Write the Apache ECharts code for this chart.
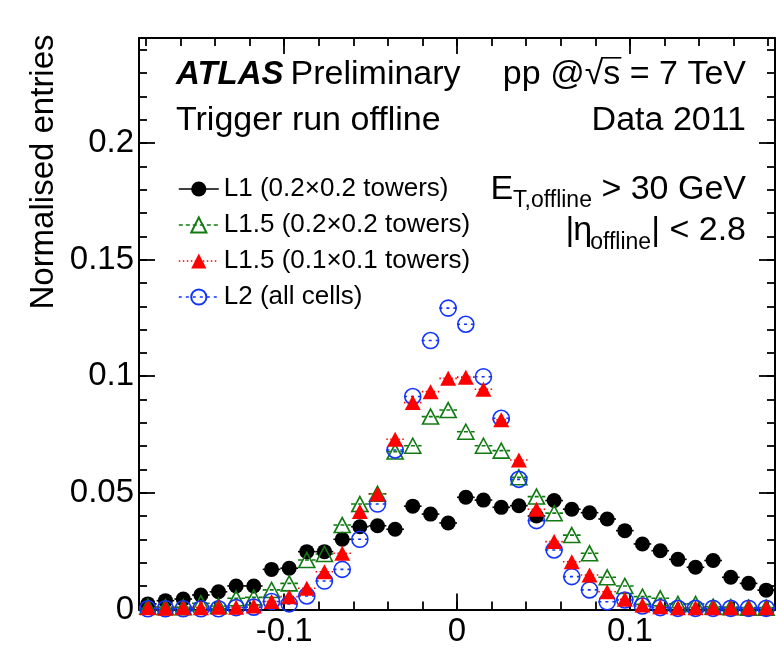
<!DOCTYPE html>
<html><head><meta charset="utf-8">
<script src="https://cdn.jsdelivr.net/npm/echarts@6/dist/echarts.min.js"></script>
<style>html,body{margin:0;padding:0;background:#fff}#c{width:776px;height:655px}</style>
</head><body><div id="c"></div>
<script>
// ---- data ----
const binCenters = [-0.1789,-0.1687,-0.1584,-0.1482,-0.1380,-0.1278,-0.1176,-0.1073,-0.0971,-0.0869,-0.0767,-0.0664,-0.0562,-0.0460,-0.0358,-0.0256,-0.0153,-0.0051,0.0051,0.0153,0.0256,0.0358,0.0460,0.0562,0.0664,0.0767,0.0869,0.0971,0.1073,0.1176,0.1278,0.1380,0.1482,0.1584,0.1687,0.1789];
const binHalfWidth = 0.00511;
const l1Towers02 = [0.0024,0.0038,0.0045,0.0062,0.0076,0.0101,0.0101,0.0172,0.0177,0.0248,0.0248,0.0301,0.0355,0.0359,0.0344,0.0443,0.0409,0.0371,0.0481,0.0469,0.0438,0.0445,0.0401,0.0467,0.0430,0.0415,0.0388,0.0338,0.0281,0.0252,0.0215,0.0181,0.0210,0.0138,0.0112,0.0083];
const l15Towers02 = [0.0012,0.0010,0.0010,0.0027,0.0015,0.0048,0.0052,0.0084,0.0112,0.0212,0.0238,0.0362,0.0452,0.0496,0.0677,0.0702,0.0827,0.0855,0.0762,0.0702,0.0681,0.0567,0.0484,0.0413,0.0319,0.0241,0.0138,0.0101,0.0055,0.0048,0.0024,0.0024,0.0012,0.0010,0.0008,0.0008];
const l15Towers01 = [0.0008,0.0005,0.0008,0.0008,0.0010,0.0010,0.0015,0.0034,0.0055,0.0091,0.0162,0.0241,0.0420,0.0495,0.0730,0.0887,0.0934,0.0991,0.0996,0.0944,0.0813,0.0641,0.0430,0.0291,0.0205,0.0148,0.0076,0.0044,0.0019,0.0012,0.0008,0.0008,0.0008,0.0008,0.0008,0.0008];
const l2AllCells = [0.0003,0.0003,0.0003,0.0003,0.0003,0.0008,0.0010,0.0034,0.0024,0.0058,0.0122,0.0172,0.0301,0.0452,0.0684,0.0913,0.1153,0.1292,0.1223,0.0998,0.0820,0.0558,0.0381,0.0255,0.0141,0.0084,0.0033,0.0041,0.0015,0.0008,0.0005,0.0005,0.0005,0.0005,0.0005,0.0005];
const seriesNames = ['L1 (0.2\u00d70.2 towers)','L1.5 (0.2\u00d70.2 towers)','L1.5 (0.1\u00d70.1 towers)','L2 (all cells)'];
const xMajorTicks = [-0.1, 0, 0.1];
const xMinorTicks = [-0.18,-0.16,-0.14,-0.12,-0.1,-0.08,-0.06,-0.04,-0.02,0,0.02,0.04,0.06,0.08,0.1,0.12,0.14,0.16,0.18];
const yMajorTicks = [0, 0.05, 0.1, 0.15, 0.2];
const yMinorTicks = [0,0.01,0.02,0.03,0.04,0.05,0.06,0.07,0.08,0.09,0.1,0.11,0.12,0.13,0.14,0.15,0.16,0.17,0.18,0.19,0.2,0.21,0.22,0.23,0.24];

// ---- helpers ----
const FONT = '"Liberation Sans", Arial, Helvetica, sans-serif';
const mctx = document.createElement('canvas').getContext('2d');
function tw(t, f){ mctx.font = f; return mctx.measureText(t).width; }
function midOff(f){ mctx.font=f; mctx.textBaseline='alphabetic'; const a=mctx.measureText('H').actualBoundingBoxAscent; mctx.textBaseline='middle'; const b=mctx.measureText('H').actualBoundingBoxAscent; mctx.textBaseline='alphabetic'; return a-b; }
function txt(t, x, baseline, f){
  return {type:'text', x:x, y: baseline - midOff(f), silent:true,
    style:{text:t, font:f, fill:'#000', align:'left', verticalAlign:'middle', textAlign:'left', textVerticalAlign:'middle'}};
}
function rightLine(segs, xr, baseline){
  let total = 0;
  segs.forEach(s => { s.f = (s.pre||'') + s.size + 'px ' + FONT; s.w = tw(s.t, s.f) + (s.kern||0); total += s.w; });
  let x = xr - total; const els = [];
  segs.forEach(s => { s.x = x; els.push(txt(s.t, x, baseline + (s.dy||0), s.f)); x += s.w; });
  return els;
}
const MS = 34;
const FM = MS + 'px ' + FONT;
const graphics = [];
// left texts
const fAtlas = 'italic bold 33px ' + FONT;
graphics.push(txt('ATLAS', 176, 84, fAtlas));
graphics.push(txt('Preliminary', 176 + tw('ATLAS', fAtlas) + 7, 84, FM));
graphics.push(txt('Trigger run offline', 176, 130, FM));
// right texts
const ppSegs = [{t:'pp @', size:MS},{t:'\u221a', size:MS},{t:'s = 7 TeV', size:MS}];
graphics.push(...rightLine(ppSegs, 746, 84));
mctx.font = FM; mctx.textBaseline='alphabetic';
const sqAsc = mctx.measureText('\u221a').actualBoundingBoxAscent;
const sW = tw('s', FM);
graphics.push({type:'line', silent:true, shape:{x1: ppSegs[1].x + ppSegs[1].w - 1, y1: 84 - sqAsc + 0.8, x2: ppSegs[2].x + sW + 1, y2: 84 - sqAsc + 0.8}, style:{stroke:'#000', lineWidth:1.6}});
graphics.push(...rightLine([{t:'Data 2011', size:MS}], 746, 130));
graphics.push(...rightLine([{t:'E', size:MS},{t:'T,offline', size:23, dy:8},{t:' > 30 GeV', size:MS}], 746, 199));
graphics.push(...rightLine([{t:'|', size:MS, kern:-1},{t:'\u03b7', size:MS, kern:-2},{t:'offline', size:23, dy:9},{t:'| < 2.8', size:MS}], 746, 240));
// y axis title
graphics.push({type:'text', x:44, y:172, rotation:Math.PI/2, silent:true,
  style:{text:'Normalised entries', font:'33px ' + FONT, fill:'#000', align:'center', verticalAlign:'middle', textAlign:'center', textVerticalAlign:'middle'}});

// ---- axes ----
const axLine = {color:'#000', width:2};
function xAx(pos, ticks, len, line, label){
  return {type:'value', min:-0.184, max:0.184, position:pos,
    axisLine:{show:line, onZero:false, lineStyle:axLine},
    axisTick:{show:true, inside:true, length:len, customValues:ticks, lineStyle:{color:'#000', width:1.8}},
    axisLabel: label ? {show:true, customValues:xMajorTicks, fontSize:33, fontFamily:FONT, color:'#000', margin:6,
      formatter: v => (Math.abs(v) < 1e-9 ? '0' : String(+v.toFixed(2)))} : {show:false},
    splitLine:{show:false}};
}
function yAx(pos, ticks, len, line, label){
  return {type:'value', min:0, max:0.245, position:pos,
    axisLine:{show:line, onZero:false, lineStyle:axLine},
    axisTick:{show:true, inside:true, length:len, customValues:ticks, lineStyle:{color:'#000', width:1.8}},
    axisLabel: label ? {show:true, customValues:yMajorTicks, fontSize:33, fontFamily:FONT, color:'#000', margin:5,
      formatter: v => (Math.abs(v) < 1e-9 ? '0' : String(+v.toFixed(2)))} : {show:false},
    splitLine:{show:false}};
}

// ---- series ----
const styles = [
  {color:'#000000', symbol:'circle', size:15, filled:true, dash:'solid'},
  {color:'#127a12', symbol:'triangle', size:[16,15], filled:false, dash:[4,3]},
  {color:'#ff0000', symbol:'triangle', size:[16,15], filled:true, dash:[1.5,2.5]},
  {color:'#1133ff', symbol:'circle', size:16, filled:false, dash:[3,4]}
];
const values = [l1Towers02, l15Towers02, l15Towers01, l2AllCells];
const series = [];
values.forEach((vals, k) => {
  const st = styles[k];
  const pts = binCenters.map((x, i) => [x, vals[i]]);
  series.push({type:'custom', name: seriesNames[k] + ' err', z:1, silent:true, animation:false,
    encode:{x:0, y:1}, data: pts,
    renderItem: (params, api) => {
      const x = api.value(0), y = api.value(1);
      const a = api.coord([x - binHalfWidth, y]), b = api.coord([x + binHalfWidth, y]);
      return {type:'line', shape:{x1:a[0], y1:a[1], x2:b[0], y2:b[1]},
        style:{stroke:st.color, lineWidth:1.6, lineDash: st.dash === 'solid' ? null : st.dash}};
    }});
});
const drawOrder = [0, 1, 3, 2];
drawOrder.forEach((k, j) => {
  const st = styles[k];
  const pts = binCenters.map((x, i) => [x, values[k][i]]);
  series.push({type:'line', name: seriesNames[k], data: pts, z: 3 + j, silent:true, animation:false,
    symbol: st.symbol, symbolSize: st.size, showSymbol:true,
    itemStyle: st.filled ? {color: st.color} : {color:'rgba(255,255,255,0)', borderColor: st.color, borderWidth:1.6},
    lineStyle:{opacity:0, color: st.color},
    emphasis:{disabled:true}});
});

const chart = echarts.init(document.getElementById('c'), null, {renderer:'canvas'});
chart.setOption({
  animation:false,
  backgroundColor:'#fff',
  grid:{left:139, right:1, top:38, bottom:45.5, containLabel:false, outerBoundsMode:'none'},
  xAxis:[xAx('bottom', xMajorTicks, 16, true, true), xAx('bottom', xMinorTicks, 8, false, false),
         xAx('top', xMajorTicks, 16, true, false), xAx('top', xMinorTicks, 8, false, false)],
  yAxis:[yAx('left', yMajorTicks, 16, true, true), yAx('left', yMinorTicks, 8, false, false),
         yAx('right', yMajorTicks, 16, true, false), yAx('right', yMinorTicks, 8, false, false)],
  legend:{orient:'vertical', left:173, top:171, itemWidth:40, itemHeight:19, itemGap:10, selectedMode:false,
    textStyle:{fontSize:26, fontFamily:FONT, color:'#000', lineHeight:25},
    data: seriesNames.map((n, k) => ({name:n, lineStyle:{opacity:1, width:1.6, color:styles[k].color,
      type: styles[k].dash}}))},
  graphic: graphics,
  series: series
});
</script></body></html>
